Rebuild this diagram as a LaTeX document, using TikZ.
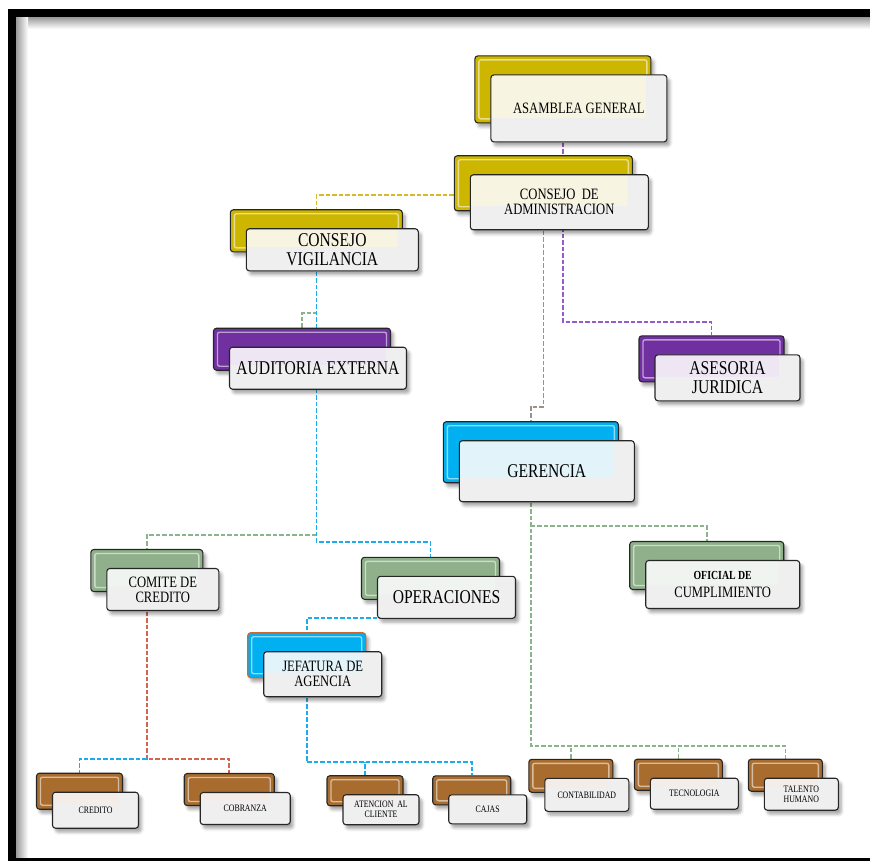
\documentclass[tikz,border=0pt]{standalone}
\usepackage{fontspec}
\newfontfamily\orgfont[FakeStretch=0.8]{Liberation Serif}
\usetikzlibrary{calc,backgrounds,shadows.blur}

% box colours
\definecolor{gold}{RGB}{205,182,0}
\definecolor{violet}{RGB}{112,48,160}
\definecolor{sky}{RGB}{0,176,240}
\definecolor{sage}{RGB}{143,176,138}
\definecolor{bronze}{RGB}{168,108,46}
\definecolor{paper}{RGB}{239,239,239}
% link colours
\definecolor{violetline}{RGB}{150,90,205}
\definecolor{goldline}{RGB}{214,186,40}
\definecolor{taupeline}{RGB}{160,145,135}
\definecolor{skyline}{RGB}{30,172,232}
\definecolor{sageline}{RGB}{140,180,140}
\definecolor{brickline}{RGB}{210,100,80}

\tikzset{
  dims/.style 2 args={minimum width=#1pt, minimum height=#2pt},
  backbox/.style={draw=black!85, line width=1.1pt, rounded corners=3pt, fill=#1, inner sep=0pt,
    blur shadow={shadow xshift=3pt, shadow yshift=-4pt, shadow blur radius=3pt, shadow opacity=35},
    path picture={\draw[white, draw opacity=0.55, line width=1.4pt, rounded corners=2pt]
      ([shift={(4pt,-4pt)}]path picture bounding box.north west) rectangle
      ([shift={(-4pt,4pt)}]path picture bounding box.south east);}},
  frontbox/.style={draw=black!85, line width=1.1pt, rounded corners=3pt, fill=paper, inner sep=0pt,
    align=center, xshift=16pt, yshift=-19pt,
    blur shadow={shadow xshift=3pt, shadow yshift=-4pt, shadow blur radius=3pt, shadow opacity=35},
    path picture={\fill[#1!12!white, fill opacity=0.85, rounded corners=2pt]
      (path picture bounding box.north west) rectangle
      ([shift={(-21pt,24pt)}]path picture bounding box.south east);}},
  bigtext/.style={font=\orgfont\fontsize{19.5}{19}\selectfont},
  midtext/.style={font=\orgfont\fontsize{15.8}{15}\selectfont},
  tinytext/.style={font=\orgfont\fontsize{9.8}{10}\selectfont},
  link/.style={line width=1.6pt, dash pattern=on 4.5pt off 2pt},
}

\begin{document}
\begin{tikzpicture}[x=1pt, y=1pt]
    \useasboundingbox (0,0) rectangle (870,-861);

    % Draw the page frame with its inner shade
    \shade[top color=black!40, bottom color=white] (16,-17) rectangle (870,-29);
    \shade[left color=black!40, right color=white] (16,-17) rectangle (28,-858);
    \draw[line width=8pt] (880,-13) -- (12,-13) -- (12,-862) -- (880,-862);

    % Draw the top units
    \node[backbox=gold, dims={176}{67}] (asamblea-b) at (562.9,-89.4) {};
    \node[frontbox=gold, dims={176}{67}, midtext] (asamblea) at (asamblea-b) {ASAMBLEA GENERAL};

    \node[backbox=gold, dims={178}{55}] (admin-b) at (543.3,-183.3) {};
    \node[frontbox=gold, dims={178}{55}, midtext] (admin) at (admin-b) {CONSEJO\ \ DE\\ADMINISTRACION};

    \node[backbox=gold, dims={172}{42}] (vigilancia-b) at (316.3,-230.8) {};
    \node[frontbox=gold, dims={172}{42}, bigtext] (vigilancia) at (vigilancia-b) {CONSEJO\\VIGILANCIA};

    \node[backbox=violet, dims={177}{42}] (auditoria-b) at (302,-349.2) {};
    \node[frontbox=violet, dims={177}{42}, bigtext] (auditoria) at (auditoria-b) {AUDITORIA EXTERNA};

    \node[backbox=violet, dims={145}{46}] (asesoria-b) at (711.5,-358.8) {};
    \node[frontbox=violet, dims={145}{46}, bigtext] (asesoria) at (asesoria-b) {ASESORIA\\JURIDICA};

    \node[backbox=sky, dims={175}{61}] (gerencia-b) at (530.8,-452.2) {};
    \node[frontbox=sky, dims={175}{61}, bigtext] (gerencia) at (gerencia-b) {GERENCIA};

    % Draw the middle units
    \node[backbox=sage, dims={112}{42}] (comite-b) at (146.8,-570.5) {};
    \node[frontbox=sage, dims={112}{42}, midtext] (comite) at (comite-b) {COMITE DE\\CREDITO};

    \node[backbox=sage, dims={138}{42}] (operaciones-b) at (430.5,-578.3) {};
    \node[frontbox=sage, dims={138}{42}, bigtext] (operaciones) at (operaciones-b) {OPERACIONES};

    \node[backbox=sky, draw=brown!80!red, dims={118}{45}] (jefatura-b) at (306.7,-655.2) {};
    \node[frontbox=sky, dims={118}{45}, midtext] (jefatura) at (jefatura-b) {JEFATURA DE\\AGENCIA};

    \node[backbox=sage, dims={154}{48}] (oficial-b) at (706.7,-565.5) {};
    \node[frontbox=sage, dims={154}{48}, midtext] (oficial) at (oficial-b)
        {{\bfseries\fontsize{12.3}{12}\selectfont OFICIAL DE}\\[3pt]CUMPLIMIENTO};

    % Draw the bottom units
    \node[backbox=bronze, dims={86}{36}] (credito-b) at (79.5,-791.2) {};
    \node[frontbox=bronze, dims={86}{36}, tinytext] (credito) at (credito-b) {CREDITO};

    \node[backbox=bronze, dims={90}{32}] (cobranza-b) at (229.2,-789.5) {};
    \node[frontbox=bronze, dims={90}{32}, tinytext] (cobranza) at (cobranza-b) {COBRANZA};

    \node[backbox=bronze, dims={76}{30}] (atencion-b) at (365,-790.7) {};
    \node[frontbox=bronze, dims={76}{30}, tinytext] (atencion) at (atencion-b) {ATENCION\ \ AL\\CLIENTE};

    \node[backbox=bronze, dims={78}{29}] (cajas-b) at (471.7,-790.3) {};
    \node[frontbox=bronze, dims={78}{29}, tinytext] (cajas) at (cajas-b) {CAJAS};

    \node[backbox=bronze, dims={84}{33}] (contab-b) at (570.8,-775.8) {};
    \node[frontbox=bronze, dims={84}{33}, tinytext] (contab) at (contab-b) {CONTABILIDAD};

    \node[backbox=bronze, dims={88}{31}] (tecno-b) at (678.3,-774.7) {};
    \node[frontbox=bronze, dims={88}{31}, tinytext] (tecno) at (tecno-b) {TECNOLOGIA};

    \node[backbox=bronze, dims={74}{32}] (talento-b) at (785.3,-775.2) {};
    \node[frontbox=bronze, dims={74}{32}, tinytext] (talento) at (talento-b) {TALENTO\\HUMANO};

    % Draw the dashed links behind the units
    \begin{scope}[on background layer]
        \draw[link, violetline] (asamblea-b.south) -- (asamblea-b.south |- 0,-322) -| (asesoria-b.north);
        \draw[link, goldline] ([yshift=-12pt]admin-b.west) -| (vigilancia-b.north);
        \draw[link, taupeline] (admin-b.south) -- (admin-b.south |- 0,-407) -| (gerencia-b.north);
        \draw[link, skyline] (vigilancia-b.south) -- (vigilancia-b.south |- 0,-542) -| (operaciones-b.north);
        \draw[link, sageline] (auditoria-b.north) |- (vigilancia-b.south |- 0,-313);
        \draw[link, sageline] (vigilancia-b.south |- 0,-535) -| (comite-b.north);
        \draw[link, skyline] (operaciones-b.south) -- (operaciones-b.south |- 0,-618) -| (jefatura-b.north);
        \draw[link, brickline] (comite-b.south) -- (comite-b.south |- 0,-759) -| (cobranza-b.north);
        \draw[link, skyline] (comite-b.south |- 0,-759) -| (credito-b.north);
        \draw[link, skyline] (jefatura-b.south) -- (jefatura-b.south |- 0,-762) -| (cajas-b.north);
        \draw[link, skyline] (atencion-b.north) -- (atencion-b.north |- 0,-762);
        \draw[link, sageline] (gerencia-b.south) -- (gerencia-b.south |- 0,-746) -| (talento-b.north);
        \draw[link, sageline] (contab-b.north) -- (contab-b.north |- 0,-746);
        \draw[link, sageline] (tecno-b.north) -- (tecno-b.north |- 0,-746);
        \draw[link, sageline] (gerencia-b.south |- 0,-526) -| (oficial-b.north);
    \end{scope}
\end{tikzpicture}
\end{document}
